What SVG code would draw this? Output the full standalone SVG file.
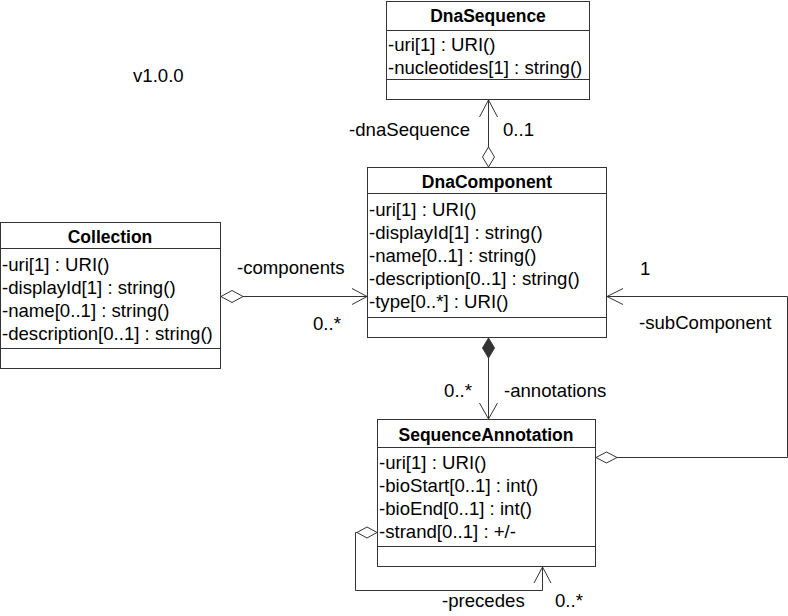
<svg xmlns="http://www.w3.org/2000/svg" width="788" height="616" viewBox="0 0 788 616">
<style>
  .box { fill: #ffffff; stroke: #333333; stroke-width: 1; }
  .sep { stroke: #333333; stroke-width: 1; }
  .title { font-family: "Liberation Sans", Arial, sans-serif; font-size: 17.5px; font-weight: bold; fill: #000000; text-anchor: middle; }
  .attr { font-family: "Liberation Sans", Arial, sans-serif; font-size: 18.6px; fill: #000000; }
  .lbl { font-family: "Liberation Sans", Arial, sans-serif; font-size: 18.6px; fill: #000000; }
  .edge { fill: none; stroke: #333333; stroke-width: 1; }
  .open { fill: none; stroke: #333333; stroke-width: 1; }
  .hollow { fill: #ffffff; stroke: #333333; stroke-width: 1; }
  .filled { fill: #333333; stroke: #333333; stroke-width: 1; }
</style>
<rect x="0" y="0" width="788" height="616" fill="#ffffff"/>
<text class="lbl" x="133" y="82">v1.0.0</text>

<g id="DnaSequence">
  <rect class="box" x="386.5" y="1.5" width="203" height="98"/>
  <line class="sep" x1="386.5" y1="30.5" x2="589.5" y2="30.5"/>
  <line class="sep" x1="386.5" y1="79.5" x2="589.5" y2="79.5"/>
  <text class="title" x="488" y="22">DnaSequence</text>
  <text class="attr" x="388" y="51">-uri[1] : URI()</text>
  <text class="attr" x="388" y="74">-nucleotides[1] : string()</text>
</g>

<g id="DnaComponent">
  <rect class="box" x="367.5" y="167.5" width="239" height="170"/>
  <line class="sep" x1="367.5" y1="193.5" x2="606.5" y2="193.5"/>
  <line class="sep" x1="367.5" y1="317.5" x2="606.5" y2="317.5"/>
  <text class="title" x="487" y="188">DnaComponent</text>
  <text class="attr" x="369" y="216">-uri[1] : URI()</text>
  <text class="attr" x="369" y="239">-displayId[1] : string()</text>
  <text class="attr" x="369" y="262">-name[0..1] : string()</text>
  <text class="attr" x="369" y="285">-description[0..1] : string()</text>
  <text class="attr" x="369" y="308">-type[0..*] : URI()</text>
</g>

<g id="Collection">
  <rect class="box" x="0.5" y="222.5" width="220" height="146"/>
  <line class="sep" x1="0.5" y1="248.5" x2="220.5" y2="248.5"/>
  <line class="sep" x1="0.5" y1="348.5" x2="220.5" y2="348.5"/>
  <text class="title" x="110" y="243">Collection</text>
  <text class="attr" x="2" y="271">-uri[1] : URI()</text>
  <text class="attr" x="2" y="294">-displayId[1] : string()</text>
  <text class="attr" x="2" y="317">-name[0..1] : string()</text>
  <text class="attr" x="2" y="340">-description[0..1] : string()</text>
</g>

<g id="SequenceAnnotation">
  <rect class="box" x="377.5" y="419.5" width="218" height="147"/>
  <line class="sep" x1="377.5" y1="447.5" x2="595.5" y2="447.5"/>
  <line class="sep" x1="377.5" y1="546.5" x2="595.5" y2="546.5"/>
  <text class="title" x="486" y="441">SequenceAnnotation</text>
  <text class="attr" x="379" y="469">-uri[1] : URI()</text>
  <text class="attr" x="379" y="492">-bioStart[0..1] : int()</text>
  <text class="attr" x="379" y="515">-bioEnd[0..1] : int()</text>
  <text class="attr" x="379" y="538">-strand[0..1] : +/-</text>
</g>

<g id="connectors">
  <!-- dnaSequence -->
  <line class="edge" x1="488.5" y1="147" x2="488.5" y2="100"/>
  <polyline class="open" points="479.5,117 488.5,100 497.5,117"/>
  <polygon class="hollow" points="488.5,167 482.5,157 488.5,147 494.5,157"/>
  <text class="lbl" x="470" y="136" text-anchor="end">-dnaSequence</text>
  <text class="lbl" x="503" y="136">0..1</text>

  <!-- components -->
  <line class="edge" x1="243" y1="296.5" x2="367" y2="296.5"/>
  <polyline class="open" points="352,288.5 367,296.5 352,304.5"/>
  <polygon class="hollow" points="221,296.5 232,290.5 243,296.5 232,302.5"/>
  <text class="lbl" x="237" y="274">-components</text>
  <text class="lbl" x="313" y="330">0..*</text>

  <!-- annotations -->
  <line class="edge" x1="488.5" y1="358" x2="488.5" y2="419"/>
  <polyline class="open" points="479.5,403 488.5,419 497.5,403"/>
  <polygon class="filled" points="488.5,338 482.5,348 488.5,358 494.5,348"/>
  <text class="lbl" x="472" y="397" text-anchor="end">0..*</text>
  <text class="lbl" x="504" y="397">-annotations</text>

  <!-- subComponent -->
  <polyline class="edge" points="617,457.5 787.5,457.5 787.5,296.5 607,296.5"/>
  <polyline class="open" points="623,288.5 607,296.5 623,304.5"/>
  <polygon class="hollow" points="596,457.5 606.5,452 617,457.5 606.5,463"/>
  <text class="lbl" x="640" y="275">1</text>
  <text class="lbl" x="639" y="329">-subComponent</text>

  <!-- precedes -->
  <polyline class="edge" points="357,532.5 355.5,532.5 355.5,590.5 542.5,590.5 542.5,567"/>
  <polyline class="open" points="534,583 542.5,567 551,583"/>
  <polygon class="hollow" points="377,532.5 367,527 357,532.5 367,538"/>
  <text class="lbl" x="442" y="607">-precedes</text>
  <text class="lbl" x="555" y="607">0..*</text>
</g>
</svg>
